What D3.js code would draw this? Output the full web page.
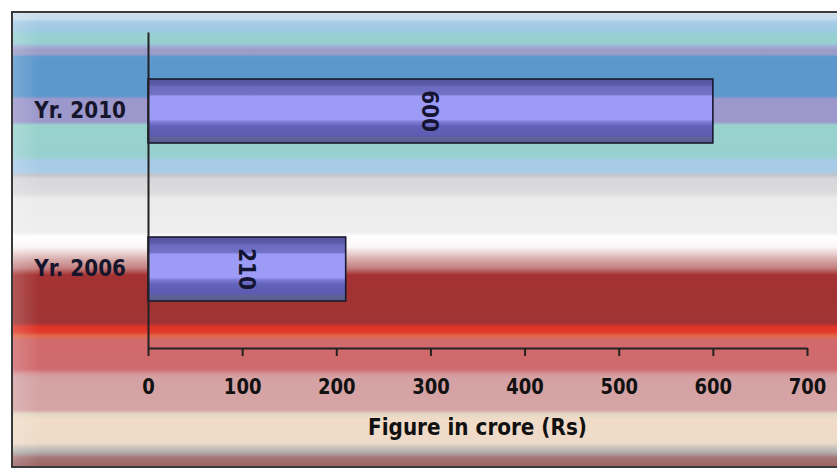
<!DOCTYPE html>
<html>
<head>
<meta charset="utf-8">
<script src="https://cdn.jsdelivr.net/npm/d3@7"></script>
<style>
  body { margin: 0; background: #fff; }
  svg { display: block; }
  text { font-family: "DejaVu Sans", Verdana, sans-serif; font-weight: bold; }
</style>
</head>
<body>
<div id="chart"></div>
<script>
// chart data
var categories = ["Yr. 2010", "Yr. 2006"];
var values = [600, 210];
var xTicks = [0, 100, 200, 300, 400, 500, 600, 700];
var xTitle = "Figure in crore (Rs)";

var W = 837, H = 470;
var stretch = 1.14; // the lettering in the picture is a bit tall

var svg = d3.select("#chart")
    .append("svg")
    .attr("width", W)
    .attr("height", H);

var defs = svg.append("defs");

// striped background, top to bottom (y in px inside the frame)
var bgStops = [
    [12, "#d0e0ea"], [19, "#c4dcea"], [22, "#a8cce8"], [31, "#9ccae0"],
    [35, "#98d0d2"], [43, "#98d0d2"], [47, "#a0acd4"], [50, "#9c9cc8"],
    [54, "#9c9cc8"], [57, "#5c98cc"], [96, "#5c98cc"], [99, "#9c98cc"],
    [122, "#9c98cc"], [125, "#98d2cc"], [157, "#98d0d0"], [161, "#a8cce8"],
    [171, "#a8cce8"], [175, "#c0c6cc"], [179, "#d8d8dc"], [193, "#dcdcde"],
    [198, "#ebebeb"], [232, "#eeeeee"], [237, "#ffffff"], [247, "#fbf6f6"],
    [254, "#e8cccc"], [260, "#d6a8a8"], [268, "#c48080"], [275, "#a43232"],
    [323, "#a03434"], [327, "#e03428"], [332, "#e23a2c"], [336, "#e06a48"],
    [340, "#d26a6c"], [369, "#d06a6e"], [374, "#d69698"], [378, "#d4a2a4"],
    [410, "#d6a4a4"], [414, "#e2d8c4"], [419, "#f0dcc8"], [443, "#eedac8"],
    [448, "#c8c2bc"], [453, "#b0a8a8"], [458, "#a47474"], [467, "#9c6262"]
];

var bg = defs.append("linearGradient")
    .attr("id", "bg")
    .attr("gradientUnits", "userSpaceOnUse")
    .attr("x1", 0).attr("y1", 12)
    .attr("x2", 0).attr("y2", 467);

bg.selectAll("stop")
    .data(bgStops)
    .enter()
    .append("stop")
    .attr("offset", function(d){return (d[0] - 12) / (467 - 12)})
    .attr("stop-color", function(d){return d[1]});

// bar shading (vertical)
var barStops = [
    [0, "#54549c"], [0.09, "#5a5aa8"], [0.12, "#6a6abe"], [0.24, "#7272c8"],
    [0.27, "#9c9cf8"], [0.63, "#9c9cf6"], [0.67, "#7c7cd8"], [0.74, "#6262ba"],
    [0.88, "#5c5cb2"], [0.92, "#5e6296"], [1, "#5a5e8c"]
];

var bargrad = defs.append("linearGradient")
    .attr("id", "bar")
    .attr("x1", 0).attr("y1", 0)
    .attr("x2", 0).attr("y2", 1);

bargrad.selectAll("stop")
    .data(barStops)
    .enter()
    .append("stop")
    .attr("offset", function(d){return d[0]})
    .attr("stop-color", function(d){return d[1]});

// left edge shading of the frame
var edge = defs.append("linearGradient")
    .attr("id", "edge")
    .attr("x1", 0).attr("y1", 0)
    .attr("x2", 1).attr("y2", 0);
edge.append("stop").attr("offset", 0).attr("stop-color", "#ffffff").attr("stop-opacity", 0.18);
edge.append("stop").attr("offset", 1).attr("stop-color", "#ffffff").attr("stop-opacity", 0);

svg.append("rect")
    .attr("x", 12)
    .attr("y", 12)
    .attr("width", W)
    .attr("height", 455)
    .attr("fill", "url(#bg)");

svg.append("rect")
    .attr("x", 13)
    .attr("y", 13)
    .attr("width", 26)
    .attr("height", 453)
    .attr("fill", "url(#edge)");

svg.append("rect")
    .attr("x", 12)
    .attr("y", 12)
    .attr("width", W)
    .attr("height", 455)
    .attr("fill", "none")
    .attr("stroke", "#3a3a3a")
    .attr("stroke-width", 2);

// scales
var x = d3.scaleLinear()
    .domain([0, 700])
    .range([148, 807]);

var y = d3.scaleBand()
    .domain(categories)
    .range([32, 348])
    .paddingInner(0.595)
    .paddingOuter(0.2975);

// bars
svg.selectAll("rect.bar")
    .data(values)
    .enter()
    .append("rect")
    .attr("class", "bar")
    .attr("x", x(0))
    .attr("y", function(d, i){return y(categories[i])})
    .attr("width", function(d){return x(d) - x(0)})
    .attr("height", y.bandwidth())
    .attr("fill", "url(#bar)")
    .attr("stroke", "#181830")
    .attr("stroke-width", 1.6);

// value labels, turned a quarter clockwise
svg.selectAll("text.val")
    .data(values)
    .enter()
    .append("text")
    .attr("class", "val")
    .attr("transform", function(d, i){
        var cx = (x(0) + x(d)) / 2;
        var cy = y(categories[i]) + y.bandwidth() / 2;
        return "translate(" + cx + "," + cy + ") rotate(90) scale(1," + stretch + ")";
    })
    .attr("text-anchor", "middle")
    .attr("dy", "0.36em")
    .attr("fill", "#141430")
    .style("font-size", "20px")
    .text(function(d){return d});

// x axis
var xAxis = svg.append("g")
    .attr("transform", "translate(0,348)")
    .call(d3.axisBottom(x)
        .tickValues(xTicks)
        .tickSize(8)
        .tickSizeOuter(0));

xAxis.select(".domain")
    .attr("stroke", "#222")
    .attr("stroke-width", 2);
xAxis.selectAll(".tick line")
    .attr("stroke", "#222")
    .attr("stroke-width", 2);
xAxis.selectAll(".tick text")
    .attr("transform", "scale(1," + stretch + ")")
    .attr("y", 46 / stretch)
    .attr("dy", 0)
    .attr("fill", "#111")
    .style("font-size", "18px")
    .style("font-family", "DejaVu Sans, Verdana, sans-serif")
    .style("font-weight", "bold");

// y axis
var yAxis = svg.append("g")
    .attr("transform", "translate(148,0)")
    .call(d3.axisLeft(y)
        .tickSize(0)
        .tickSizeOuter(0)
        .tickPadding(22));

yAxis.select(".domain")
    .attr("stroke", "#222")
    .attr("stroke-width", 2);
yAxis.selectAll(".tick text")
    .attr("transform", "scale(1," + stretch + ")")
    .attr("dy", "0.3em")
    .attr("fill", "#15152c")
    .style("font-size", "20px")
    .style("font-family", "DejaVu Sans, Verdana, sans-serif")
    .style("font-weight", "bold");

// axis title
svg.append("text")
    .attr("transform", "translate(" + (x(0) + x(700)) / 2 + ",435) scale(1," + stretch + ")")
    .attr("text-anchor", "middle")
    .attr("fill", "#111")
    .style("font-size", "20px")
    .text(xTitle);
</script>
</body>
</html>
